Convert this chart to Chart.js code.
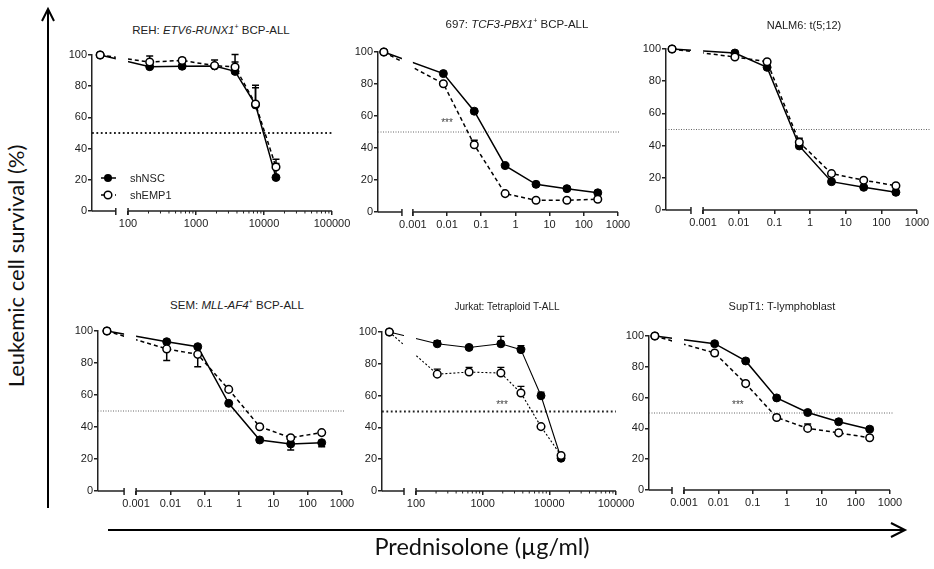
<!DOCTYPE html>
<html><head><meta charset="utf-8">
<script src="https://cdn.jsdelivr.net/npm/chart.js@4.4.0/dist/chart.umd.min.js"></script>
<style>
html,body{margin:0;padding:0;background:#fff;}
#wrap{position:relative;width:934px;height:569px;overflow:hidden;font-family:"Liberation Sans",Arial,sans-serif;}
canvas{position:absolute;}
.t{position:absolute;white-space:nowrap;transform:translate(-50%,-50%);font-size:11px;color:#222;z-index:3;}
.t sup{font-size:7px;vertical-align:5px;line-height:0;}
.lt{position:absolute;white-space:nowrap;font-size:11px;color:#222;transform:translateY(-50%);z-index:3;}
.big{position:absolute;white-space:nowrap;font-family:Lato,"Open Sans",sans-serif;font-size:22px;color:#111;transform:translate(-50%,-50%);z-index:3;}
svg.deco{position:absolute;left:0;top:0;}
</style></head><body><div id="wrap">
<svg class="deco" width="934" height="569">
  <line x1="48" y1="9" x2="48" y2="508" stroke="#000" stroke-width="2"/>
  <polyline points="42,21 48,9 54,21" fill="none" stroke="#000" stroke-width="2"/>
  <line x1="108" y1="530" x2="905" y2="530" stroke="#000" stroke-width="2"/>
  <polyline points="891,523 905,530 891,537" fill="none" stroke="#000" stroke-width="2"/>
  <g>
    <line x1="101" y1="178" x2="116" y2="178" stroke="#000" stroke-width="1.5"/>
    <circle cx="108" cy="178" r="4" fill="#000"/>
    <line x1="101" y1="195" x2="116" y2="195" stroke="#000" stroke-width="1.5" stroke-dasharray="4,3"/>
    <circle cx="108" cy="195" r="3.8" fill="#fff" stroke="#000" stroke-width="1.5"/>
  </g>
</svg>
<div class="lt" style="left:130px;top:178px">shNSC</div>
<div class="lt" style="left:130px;top:195px">shEMP1</div>
<div class="big" style="left:15px;top:266px;transform:translate(-50%,-50%) rotate(-90deg);">Leukemic cell survival (%)</div>
<div class="big" style="left:482px;top:546px;font-size:23.5px;">Prednisolone (µg/ml)</div>
</div>
<script>
// ---------- data ----------
const concHigh = [0, 208.3, 625, 1875, 3750, 7500, 15000];
const concLow  = [0, 0.0078, 0.0625, 0.5, 4, 32, 256];
const decadesHigh = [2, 3, 4, 5];
const decadesLow  = [-3, -2, -1, 0, 1, 2, 3];
const tickLabelsHigh = ['100', '1000', '10000', '100000'];
const tickLabelsLow  = ['0.001', '0.01', '0.1', '1', '10', '100', '1000'];
const yTicks = [0, 20, 40, 60, 80, 100];

const rehNSC     = [100, 92.5, 92.8, 93.0, 89.5, 68.0, 21.5];
const rehEMP1    = [100, 95.5, 96.5, 93.2, 92.3, 68.6, 28.2];
const rehNSCerr  = [0, 0, 0, 3.8, 6, 11, 9];
const rehEMP1err = [0, 3.9, 1.4, 0, 8, 12, 5];

const p697NSC     = [100, 86.5, 63.0, 29.0, 17.3, 14.6, 12.0];
const p697EMP1    = [100, 80.2, 42.0, 11.5, 7.3, 7.3, 8.0];
const p697NSCerr  = [0, 1, 0, 0, 0, 0, 0];
const p697EMP1err = [0, 0, 2.8, 0, 0, 0, 0];

const nalmNSC     = [100, 97.5, 88.6, 39.8, 17.6, 14.1, 11.0];
const nalmEMP1    = [100, 95.0, 92.1, 42.1, 22.6, 18.5, 15.1];
const nalmNSCerr  = [0, 0, 0, 0, 0, 0, 0];
const nalmEMP1err = [0, 0, 0, 2.5, 0, 0, 0];

const semNSC     = [100, 93.3, 90.2, 54.8, 31.9, 29.4, 30.2];
const semEMP1    = [100, 88.8, 85.4, 63.5, 40.2, 33.3, 36.5];
const semNSCerr  = [0, 0, 0, 0, 0, -3.8, -2.5];
const semEMP1err = [0, -7.3, -7.7, 0, 0, 0, 0];

const jurNSC     = [100, 92.6, 90.3, 92.6, 88.9, 59.9, 20.6];
const jurEMP1    = [100, 73.5, 74.8, 74.2, 61.6, 40.5, 22.3];
const jurNSCerr  = [0, 1.9, 0, 4.7, 2.5, 2.3, 0];
const jurEMP1err = [0, 3.2, 2.9, 3.5, 4.2, 0, 0];

const supNSC     = [100, 95.0, 83.8, 59.8, 50.3, 44.3, 39.5];
const supEMP1    = [100, 89.0, 69.1, 47.1, 40.0, 37.1, 33.9];
const supNSCerr  = [0, 0, 1.5, 0, 0, 1.5, 1.5];
const supEMP1err = [0, 0, 0, 0, 2.8, 1.8, 0];

// ---------- panel layout ----------
const panels = [
 {title:'REH: <i>ETV6-RUNX1</i><sup>+</sup> BCP-ALL', tx:211, ty:30, ts:11.5,
  conc:concHigh, nsc:rehNSC, emp:rehEMP1, nscErr:rehNSCerr, empErr:rehEMP1err,
  dec:decadesHigh, labels:tickLabelsHigh, X0:92, X1:332, Ytop:55, Ybot:211,
  xmin:1.47, xmax:5, breakA:1.82, breakB:2, ctrl:1.59, refEnd:5, refBold:true, star:null, thin:false, minor:true},
 {title:'697: <i>TCF3-PBX1</i><sup>+</sup> BCP-ALL', tx:517, ty:24, ts:11.5,
  conc:concLow, nsc:p697NSC, emp:p697EMP1, nscErr:p697NSCerr, empErr:p697EMP1err,
  dec:decadesLow, labels:tickLabelsLow, X0:378, X1:618, Ytop:52, Ybot:212,
  xmin:-4.02, xmax:3, breakA:-3.32, breakB:-3, ctrl:-3.85, refEnd:3.06, refBold:false, star:[-2.0, 55.6], thin:false, minor:false},
 {title:'NALM6: t(5;12)', tx:804, ty:25, ts:11,
  conc:concLow, nsc:nalmNSC, emp:nalmEMP1, nscErr:nalmNSCerr, empErr:nalmEMP1err,
  dec:decadesLow, labels:tickLabelsLow, X0:666, X1:917, Ytop:49, Ybot:210,
  xmin:-4.04, xmax:3, breakA:-3.34, breakB:-3, ctrl:-3.87, refEnd:3.37, refBold:false, star:null, thin:false, minor:false},
 {title:'SEM: <i>MLL-AF4</i><sup>+</sup> BCP-ALL', tx:237, ty:305, ts:11.5,
  conc:concLow, nsc:semNSC, emp:semEMP1, nscErr:semNSCerr, empErr:semEMP1err,
  dec:decadesLow, labels:tickLabelsLow, X0:98, X1:342, Ytop:331, Ybot:491,
  xmin:-4.11, xmax:3, breakA:-3.35, breakB:-3, ctrl:-3.85, refEnd:3.08, refBold:false, star:null, thin:false, minor:false},
 {title:'Jurkat: Tetraploid T-ALL', tx:507, ty:306, ts:10,
  conc:concHigh, nsc:jurNSC, emp:jurEMP1, nscErr:jurNSCerr, empErr:jurEMP1err,
  dec:decadesHigh, labels:tickLabelsHigh, X0:382, X1:616, Ytop:332, Ybot:491,
  xmin:1.49, xmax:5, breakA:1.82, breakB:2, ctrl:1.6, refEnd:5, refBold:true, star:[3.29, 54], thin:true, minor:true},
 {title:'SupT1: T-lymphoblast', tx:782, ty:306, ts:11,
  conc:concLow, nsc:supNSC, emp:supEMP1, nscErr:supNSCerr, empErr:supEMP1err,
  dec:decadesLow, labels:tickLabelsLow, X0:649, X1:890, Ytop:336, Ybot:490,
  xmin:-4.02, xmax:3, breakA:-3.35, breakB:-3, ctrl:-3.85, refEnd:3.08, refBold:false, star:[-1.43, 55], thin:false, minor:false}
];

const FONT = '"Liberation Sans", Arial, sans-serif';
const INK = '#222';
const wrap = document.getElementById('wrap');

function makeDeco(p){
  return {
    id:'deco',
    beforeDatasetsDraw(chart){
      const ctx = chart.ctx, xs = chart.scales.x, ys = chart.scales.y;
      const y0 = ys.getPixelForValue(0);
      const a = xs.getPixelForValue(p.breakA), b = xs.getPixelForValue(p.breakB);
      const L = chart.chartArea.left, R = chart.chartArea.right;
      ctx.save();
      ctx.strokeStyle = INK; ctx.lineWidth = 1.5; ctx.setLineDash([]);
      ctx.beginPath();
      ctx.moveTo(L, y0); ctx.lineTo(a, y0);
      ctx.moveTo(b, y0); ctx.lineTo(R, y0);
      ctx.moveTo(a, y0 - 3); ctx.lineTo(a, y0 + 4);
      ctx.moveTo(b, y0 - 3); ctx.lineTo(b, y0 + 4);
      ctx.stroke();
      if (p.minor){
        ctx.lineWidth = 1;
        ctx.beginPath();
        p.dec.forEach(d=>{
          for (let m=2;m<=9;m++){
            const v = d + Math.log10(m);
            if (v < p.xmax){ const x = xs.getPixelForValue(v); ctx.moveTo(x, y0); ctx.lineTo(x, y0 + 2.5); }
          }
        });
        ctx.stroke();
      }
      // 50% reference line
      const yr = ys.getPixelForValue(50);
      ctx.beginPath();
      if (p.refBold){ ctx.lineWidth = 1.8; ctx.setLineDash([1.8, 2.6]); ctx.strokeStyle = '#222'; }
      else { ctx.lineWidth = 1; ctx.setLineDash([1, 1.5]); ctx.strokeStyle = '#666'; }
      ctx.moveTo(L, yr); ctx.lineTo(xs.getPixelForValue(p.refEnd), yr);
      ctx.stroke();
      ctx.setLineDash([]);
      // error bars
      ctx.strokeStyle = '#000'; ctx.lineWidth = p.thin ? 1.3 : 1.5;
      [[p.nsc, p.nscErr], [p.emp, p.empErr]].forEach(([vals, errs])=>{
        vals.forEach((v,i)=>{
          if (!errs[i]) return;
          const xv = p.conc[i] === 0 ? p.ctrl : Math.log10(p.conc[i]);
          const x = xs.getPixelForValue(xv), y1 = ys.getPixelForValue(v), y2 = ys.getPixelForValue(v + errs[i]);
          ctx.beginPath(); ctx.moveTo(x, y1); ctx.lineTo(x, y2);
          ctx.moveTo(x - 3.5, y2); ctx.lineTo(x + 3.5, y2); ctx.stroke();
        });
      });
      ctx.restore();
    },
    beforeDatasetDraw(chart){
      const ctx = chart.ctx, xs = chart.scales.x;
      const a = xs.getPixelForValue(p.breakA), b = xs.getPixelForValue(p.breakB);
      ctx.save();
      ctx.beginPath();
      ctx.rect(0, 0, a, chart.height);
      ctx.rect(b, 0, chart.width - b, chart.height);
      ctx.clip();
    },
    afterDatasetDraw(chart){ chart.ctx.restore(); },
    afterDatasetsDraw(chart){
      if (!p.star) return;
      const ctx = chart.ctx;
      ctx.save();
      ctx.fillStyle = '#444'; ctx.font = '10px ' + FONT; ctx.textAlign = 'center'; ctx.textBaseline = 'middle';
      ctx.fillText('***', chart.scales.x.getPixelForValue(p.star[0]), chart.scales.y.getPixelForValue(p.star[1]));
      ctx.restore();
    }
  };
}

panels.forEach(p=>{
  const t = document.createElement('div');
  t.className = 't'; t.innerHTML = p.title;
  t.style.left = p.tx + 'px'; t.style.top = p.ty + 'px'; t.style.fontSize = p.ts + 'px';
  wrap.appendChild(t);

  const padL = 45, padT = 14, padR = 24, xh = 30;
  const c = document.createElement('canvas');
  const w = (p.X1 - p.X0) + padL + padR, h = (p.Ybot - p.Ytop) + padT + xh;
  c.width = w; c.height = h;
  c.style.left = (p.X0 - padL) + 'px'; c.style.top = (p.Ytop - padT) + 'px';
  c.style.width = w + 'px'; c.style.height = h + 'px';
  wrap.appendChild(c);

  const pts = vals => vals.map((v,i)=>({x: p.conc[i] === 0 ? p.ctrl : Math.log10(p.conc[i]), y: v}));
  const lw = p.thin ? 1.1 : 1.5;
  new Chart(c, {
    type: 'line',
    data: { datasets: [
      { label:'shEMP1', data: pts(p.emp), borderColor:'#000', borderWidth: lw, borderDash: p.thin ? [2,2] : [4,3],
        pointRadius: 3.8, pointBackgroundColor:'#fff', pointBorderColor:'#000', pointBorderWidth:1.5, tension:0, clip:false },
      { label:'shNSC', data: pts(p.nsc), borderColor:'#000', borderWidth: lw,
        pointRadius: 4, pointBackgroundColor:'#000', pointBorderColor:'#000', pointBorderWidth:1, tension:0, clip:false }
    ]},
    options: {
      responsive:false, animation:false, devicePixelRatio:1,
      layout:{ padding:{ left:0, top:padT, right:padR, bottom:0 } },
      plugins:{ legend:{display:false}, tooltip:{enabled:false} },
      events: [],
      scales:{
        x:{ type:'linear', min:p.xmin, max:p.xmax,
          afterBuildTicks(s){ s.ticks = p.dec.map(v=>({value:v})); },
          ticks:{ callback:(v,i)=>p.labels[i], font:{size:11, family:FONT}, color:INK, padding:2, maxRotation:0, autoSkip:false },
          grid:{ display:true, drawOnChartArea:false, drawTicks:true, tickLength:4, color:INK, lineWidth:1.5 },
          border:{ display:false },
          afterFit(s){ s.height = xh; s.paddingLeft = 0; s.paddingRight = 0; }
        },
        y:{ min:0, max:100,
          afterBuildTicks(s){ s.ticks = yTicks.map(v=>({value:v})); },
          ticks:{ font:{size:11, family:FONT}, color:INK, padding:1 },
          grid:{ display:true, drawOnChartArea:false, drawTicks:true, tickLength:4, color:INK, lineWidth:1.5 },
          border:{ display:true, color:INK, width:1.5 },
          afterFit(s){ s.width = padL; s.paddingTop = 0; s.paddingBottom = 0; }
        }
      }
    },
    plugins:[ makeDeco(p) ]
  });
});
</script>
</body></html>
